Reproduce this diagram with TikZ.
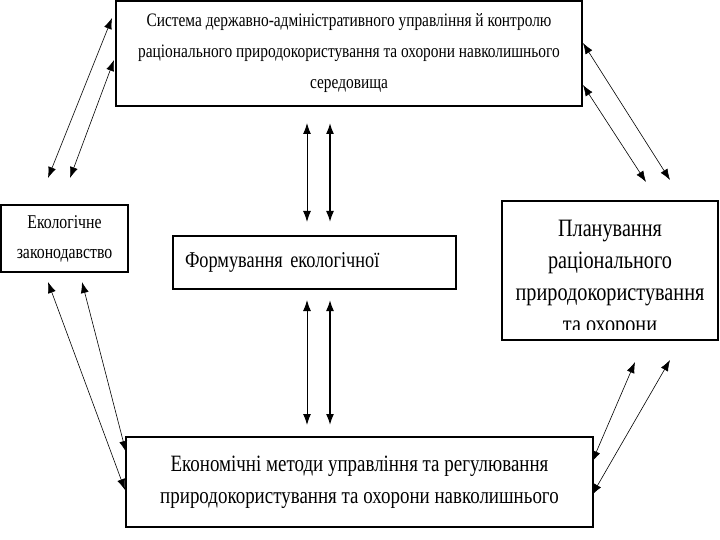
\documentclass[tikz,border=0pt]{standalone}
\usepackage{fontspec}
\setmainfont{Liberation Serif}
\newfontfamily\narrowserif[FakeStretch=0.81]{Liberation Serif}
\usetikzlibrary{arrows.meta}

\begin{document}
\begin{tikzpicture}[x=1pt,y=-1pt,>={Latex[length=11pt,width=8pt]}]
        \tikzstyle{block}=[rectangle, line width=1.6pt, draw=black, fill=white, inner sep=0pt, align=center]
        \tikzstyle{thinlink}=[<->, line width=0.6pt]
        \tikzstyle{thicklink}=[<->, line width=1.6pt]
        \useasboundingbox (0,0) rectangle (720,540);
        \node [block, minimum width=466pt, minimum height=105pt, font={\narrowserif\fontsize{19}{31}\selectfont}] (control) at (349,53.5)
          {Система державно-адміністративного управління й контролю\\раціонального природокористування та охорони навколишнього\\середовища};
        \node [block, minimum width=127pt, minimum height=67pt, font={\narrowserif\fontsize{19.5}{30}\selectfont}] (law) at (64.5,238.5)
          {Екологічне\\законодавство};
        \node [block, minimum width=283pt, minimum height=53pt, text width=259pt, align=left, font={\narrowserif\fontsize{22.6}{30}\selectfont}] (forming) at (314.5,262.5)
          {Формування екологічної};
        \node [block, minimum width=216pt, minimum height=139pt, path picture={
            \node [font={\narrowserif\fontsize{25}{32}\selectfont}, align=center] at ([yshift=-8pt]path picture bounding box.center)
              {Планування\\раціонального\\природокористування\\та охорони};
            \fill [white] ([yshift=10pt]path picture bounding box.south west) rectangle (path picture bounding box.south east);}] (plan) at (610,270.5) {};
        \node [block, minimum width=467pt, minimum height=90pt, font={\narrowserif\fontsize{23.4}{32}\selectfont}] (economy) at (359.5,482)
          {Економічні методи управління та регулювання\\природокористування та охорони навколишнього};
        \coordinate (lta) at (48,178);  \coordinate (ltb) at (112,18);
        \coordinate (lta2) at (70,178); \coordinate (ltb2) at (114,60);
        \coordinate (rta) at (583,43);  \coordinate (rtb) at (670,180);
        \coordinate (rta2) at (583,85); \coordinate (rtb2) at (646,182);
        \coordinate (lba) at (48,282);  \coordinate (lbb) at (125,490);
        \coordinate (lba2) at (82,282); \coordinate (lbb2) at (126,452);
        \coordinate (rba) at (635,362); \coordinate (rbb) at (592,462);
        \coordinate (rba2) at (670,360); \coordinate (rbb2) at (592,495);
        \coordinate (vua) at (307,123); \coordinate (vub) at (307,222);
        \coordinate (vua2) at (330,123); \coordinate (vub2) at (330,222);
        \coordinate (vla) at (307,300); \coordinate (vlb) at (307,425);
        \coordinate (vla2) at (330,300); \coordinate (vlb2) at (330,425);
        \foreach \from/\to in {lta/ltb, lta2/ltb2, rta/rtb, rta2/rtb2, lba/lbb, lba2/lbb2, rba/rbb, rba2/rbb2}
          \draw [thinlink] (\from) -- (\to);
        \draw [thinlink, line width=1pt] (vua) -- (vub);
        \draw [thinlink, line width=1pt] (vla) -- (vlb);
        \draw [thicklink] (vua2) -- (vub2);
        \draw [thicklink] (vla2) -- (vlb2);
      \end{tikzpicture}
\end{document}
